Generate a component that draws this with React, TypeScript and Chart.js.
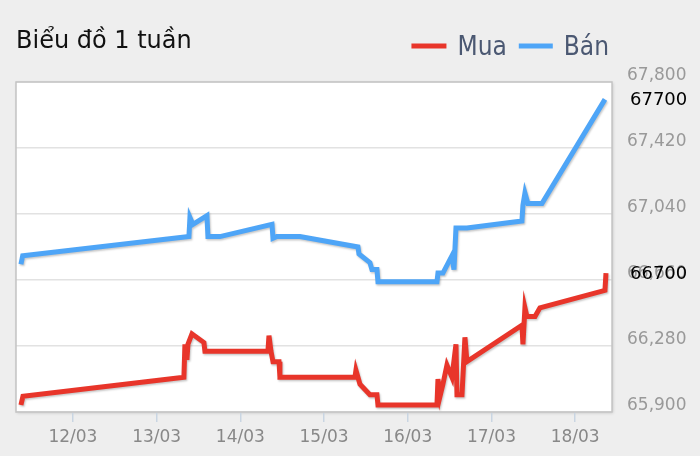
import { useEffect, useRef } from "react";
import { Chart, registerables } from "chart.js";

Chart.register(...registerables);

const TITLE = "Biểu đồ 1 tuần";
const BUY_NAME = "Mua";
const SELL_NAME = "Bán";

// Time in fractional day-of-month (March)
const buyTimes = [
  11.379, 11.403, 13.326, 13.338, 13.362, 13.374, 13.422, 13.565, 13.577, 14.33,
  14.342, 14.366, 14.39, 14.462, 14.473, 15.369, 15.381, 15.405, 15.429, 15.548,
  15.632, 15.644, 16.349, 16.361, 16.385, 16.42, 16.468, 16.528, 16.576, 16.588,
  16.648, 16.683, 16.707, 17.364, 17.376, 17.4, 17.424, 17.52, 17.579, 18.356,
  18.368,
];
const buyValues = [
  65940, 65990, 66100, 66290, 66200, 66290, 66350, 66300, 66250, 66250,
  66340, 66250, 66190, 66190, 66100, 66100, 66140, 66100, 66060, 66000,
  66000, 65940, 65940, 66090, 65990, 66060, 66170, 66100, 66290, 66000,
  66000, 66330, 66190, 66400, 66290, 66500, 66450, 66450, 66500, 66600,
  66700,
];

const sellTimes = [
  11.379, 11.4, 13.386, 13.398, 13.434, 13.601, 13.613, 13.756, 14.378, 14.39,
  14.437, 14.712, 15.405, 15.417, 15.548, 15.572, 15.632, 15.644, 16.349, 16.361,
  16.42, 16.528, 16.552, 16.576, 16.707, 17.364, 17.376, 17.4, 17.436, 17.603,
  18.356,
];
const sellValues = [
  66750, 66800, 66910, 67020, 66980, 67030, 66910, 66910, 66980, 66900,
  66910, 66910, 66850, 66810, 66760, 66720, 66720, 66650, 66650, 66700,
  66700, 66800, 66720, 66960, 66960, 67000, 67090, 67160, 67100, 67100,
  67700,
];

const xTickDays = [12, 13, 14, 15, 16, 17, 18];
const xTickLabels = ["12/03", "13/03", "14/03", "15/03", "16/03", "17/03", "18/03"];
const yTicks = [65900, 66280, 66660, 67040, 67420, 67800];

const X_MIN = 11.32;
const X_MAX = 18.44;
const Y_MIN = 65900;
const Y_MAX = 67800;

const RED = "#e8352a";
const BLUE = "#4ea5f7";

const decorPlugin = {
  id: "decor",
  beforeDraw(chart: any) {
    const { ctx, chartArea: a, width, height } = chart;
    ctx.save();
    ctx.fillStyle = "#eeeeee";
    ctx.fillRect(0, 0, width, height);
    ctx.shadowColor = "rgba(0,0,0,0.18)";
    ctx.shadowBlur = 3;
    ctx.shadowOffsetX = 1;
    ctx.shadowOffsetY = 1;
    ctx.fillStyle = "#ffffff";
    ctx.fillRect(a.left, a.top, a.right - a.left, a.bottom - a.top);
    ctx.restore();
  },
  beforeDatasetsDraw(chart: any) {
    const { ctx } = chart;
    ctx.save();
    ctx.shadowColor = "rgba(0,0,0,0.22)";
    ctx.shadowBlur = 2;
    ctx.shadowOffsetX = 1;
    ctx.shadowOffsetY = 1.5;
  },
  afterDatasetsDraw(chart: any) {
    const { ctx, chartArea: a } = chart;
    ctx.restore();
    ctx.save();
    ctx.strokeStyle = "#c4c4c4";
    ctx.lineWidth = 1.5;
    ctx.strokeRect(a.left, a.top, a.right - a.left, a.bottom - a.top);
    ctx.restore();
  },
  afterDraw(chart: any) {
    const { ctx, chartArea: a } = chart;
    ctx.save();
    // end-value labels
    ctx.fillStyle = "#000000";
    ctx.font = '18px "DejaVu Sans", sans-serif';
    ctx.textAlign = "left";
    ctx.textBaseline = "middle";
    chart.data.datasets.forEach((ds: any, i: number) => {
      const meta = chart.getDatasetMeta(i);
      const last = meta.data[meta.data.length - 1];
      const v = ds.data[ds.data.length - 1].y;
      if (last) ctx.fillText(String(v), a.right + 18, last.y + 1);
    });
    // title
    ctx.fillStyle = "#111111";
    ctx.font = '24px "DejaVu Sans", sans-serif';
    ctx.textBaseline = "alphabetic";
    ctx.fillText(TITLE, 16, 48);
    // legend
    ctx.font = '26px "DejaVu Sans Condensed", "Liberation Sans Narrow", "DejaVu Sans", sans-serif';
    const w2 = ctx.measureText(SELL_NAME).width;
    const w1 = ctx.measureText(BUY_NAME).width;
    const t2 = 609 - w2;
    const l2 = t2 - 11 - 34;
    const t1 = l2 - 12 - w1;
    const l1 = t1 - 11 - 35;
    ctx.fillStyle = RED;
    ctx.fillRect(l1, 43.5, 35, 5);
    ctx.fillStyle = BLUE;
    ctx.fillRect(l2, 43.5, 34, 5);
    ctx.fillStyle = "#4b5872";
    ctx.fillText(BUY_NAME, t1, 55);
    ctx.fillText(SELL_NAME, t2, 55);
    ctx.restore();
  },
};

export default function App() {
  const ref = useRef<HTMLCanvasElement | null>(null);
  useEffect(() => {
    document.body.style.margin = "0";
    document.body.style.background = "#eeeeee";
    const canvas = ref.current;
    if (!canvas) return;
    Chart.defaults.font.family = '"DejaVu Sans", sans-serif';
    const chart = new Chart(canvas, {
      type: "line",
      data: {
        datasets: [
          {
            label: BUY_NAME,
            data: buyTimes.map((t, i) => ({ x: t, y: buyValues[i] })),
            borderColor: RED,
            backgroundColor: RED,
            borderWidth: 5,
            pointRadius: 0,
            tension: 0,
            borderJoinStyle: "miter",
            fill: false,
          },
          {
            label: SELL_NAME,
            data: sellTimes.map((t, i) => ({ x: t, y: sellValues[i] })),
            borderColor: BLUE,
            backgroundColor: BLUE,
            borderWidth: 5,
            pointRadius: 0,
            tension: 0,
            borderJoinStyle: "miter",
            fill: false,
          },
        ],
      },
      options: {
        responsive: false,
        animation: false,
        layout: { padding: { top: 82, left: 16, right: 0, bottom: 0 } },
        plugins: {
          legend: { display: false },
          title: { display: false },
          tooltip: { enabled: false },
        },
        scales: {
          x: {
            type: "linear",
            min: X_MIN,
            max: X_MAX,
            afterBuildTicks: (axis: any) => {
              axis.ticks = xTickDays.map((v) => ({ value: v }));
            },
            afterFit: (axis: any) => {
              axis.height = 44;
            },
            grid: {
              drawOnChartArea: false,
              drawTicks: true,
              tickLength: 10,
              color: "#c9d5e2",
              lineWidth: 1.5,
            },
            border: { display: false },
            ticks: {
              padding: 5,
              color: "#888888",
              font: { size: 17 },
              maxRotation: 0,
              autoSkip: false,
              callback: (v: any) => {
                const i = xTickDays.indexOf(Number(v));
                return i >= 0 ? xTickLabels[i] : "";
              },
            },
          },
          y: {
            type: "linear",
            position: "right",
            min: Y_MIN,
            max: Y_MAX,
            afterBuildTicks: (axis: any) => {
              axis.ticks = yTicks.map((v) => ({ value: v }));
            },
            afterFit: (axis: any) => {
              axis.width = 88;
            },
            grid: {
              drawTicks: false,
              color: "#e2e2e2",
              lineWidth: 1.5,
            },
            border: { display: false },
            ticks: {
              padding: 15,
              color: "#999999",
              font: { size: 17 },
              labelOffset: -6,
              callback: (v: any) => Number(v).toLocaleString("en-US"),
            },
          },
        },
      },
      plugins: [decorPlugin],
    });
    return () => chart.destroy();
  }, []);
  return <canvas ref={ref} width={700} height={456} style={{ display: "block" }} />;
}
